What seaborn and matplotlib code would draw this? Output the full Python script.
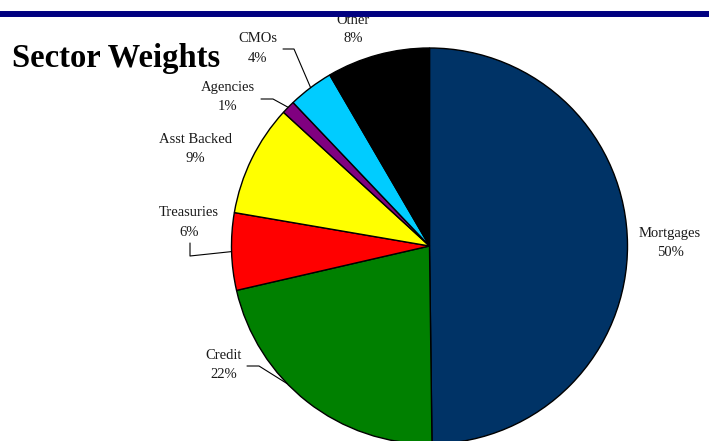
import matplotlib
matplotlib.use("Agg")
import matplotlib.pyplot as plt
from matplotlib.lines import Line2D
import seaborn as sns
import numpy as np

# datos del grafico
sectores = ["Mortgages", "Credit", "Treasuries", "Asst Backed", "Agencies", "CMOs", "Other"]
pesos = [49.8, 21.6, 6.3, 9.1, 1.1, 3.7, 8.4]
colores = ["#003366", "#008000", "#FF0000", "#FFFF00", "#800080", "#00CCFF", "#000000"]

# geometria en pixeles
W, H = 709, 441
CX, CY, R = 429.5, 246, 198

# centro de cada etiqueta (px)
pos_etiquetas = {
    "Mortgages": (670, 242.5),
    "Credit": (224, 365),
    "Treasuries": (189, 222.5),
    "Asst Backed": (195, 149),
    "Agencies": (228, 97.5),
    "CMOs": (258, 48.5),
    "Other": (353, 29.5),
}
# lineas guia: inicio, codo, fraccion del angulo dentro de la cuña
guias = {
    "CMOs": ((283, 49), (294, 49), 0.5),
    "Agencies": ((261, 99), (273, 99), 0.5),
    "Treasuries": ((190, 243), (190, 256), 0.5),
    "Credit": ((247, 366), (259, 366), 0.4),
}


def a_datos(px, py):
    return (px - CX) / R, (CY - py) / R


sns.set_style("white")
plt.rcParams["font.family"] = ["Liberation Serif", "DejaVu Serif"]
plt.rcParams["text.color"] = "black"

fig = plt.figure(figsize=(W / 100, H / 100), dpi=100)
ax = fig.add_axes([(CX - R) / W, (H - CY - R) / H, 2 * R / W, 2 * R / H])

cunas, _ = ax.pie(
    pesos,
    colors=colores,
    startangle=90,
    counterclock=False,
    radius=1,
    wedgeprops=dict(edgecolor="black", linewidth=1.0),
)
for c in cunas:
    c.set_clip_on(False)
ax.set_xlim(-1, 1)
ax.set_ylim(-1, 1)
ax.set_aspect("auto")
ax.axis("off")

for nombre, valor in zip(sectores, pesos):
    x, y = a_datos(*pos_etiquetas[nombre])
    ax.text(x, y, f"{nombre}\n{round(valor):.0f}%", ha="center", va="center",
            fontsize=10.5, linespacing=1.6, color="#1a1a1a", clip_on=False)

for nombre, (inicio, codo, frac) in guias.items():
    cuna = cunas[sectores.index(nombre)]
    ang = np.deg2rad(cuna.theta1 + frac * (cuna.theta2 - cuna.theta1))
    x0, y0 = a_datos(*inicio)
    x1, y1 = a_datos(*codo)
    ax.plot([x0, x1, np.cos(ang)], [y0, y1, np.sin(ang)], color="black",
            lw=0.8, clip_on=False)

fig.text(12 / W, 1 - 67 / H, "Sector Weights", fontsize=23.5, fontweight="bold",
         ha="left", va="baseline", color="black")
fig.add_artist(Line2D([0, 1], [1 - 14 / H] * 2, transform=fig.transFigure,
                      color="#000080", lw=4.3, zorder=10))

fig.savefig("out.png", dpi=100)
plt.close(fig)
